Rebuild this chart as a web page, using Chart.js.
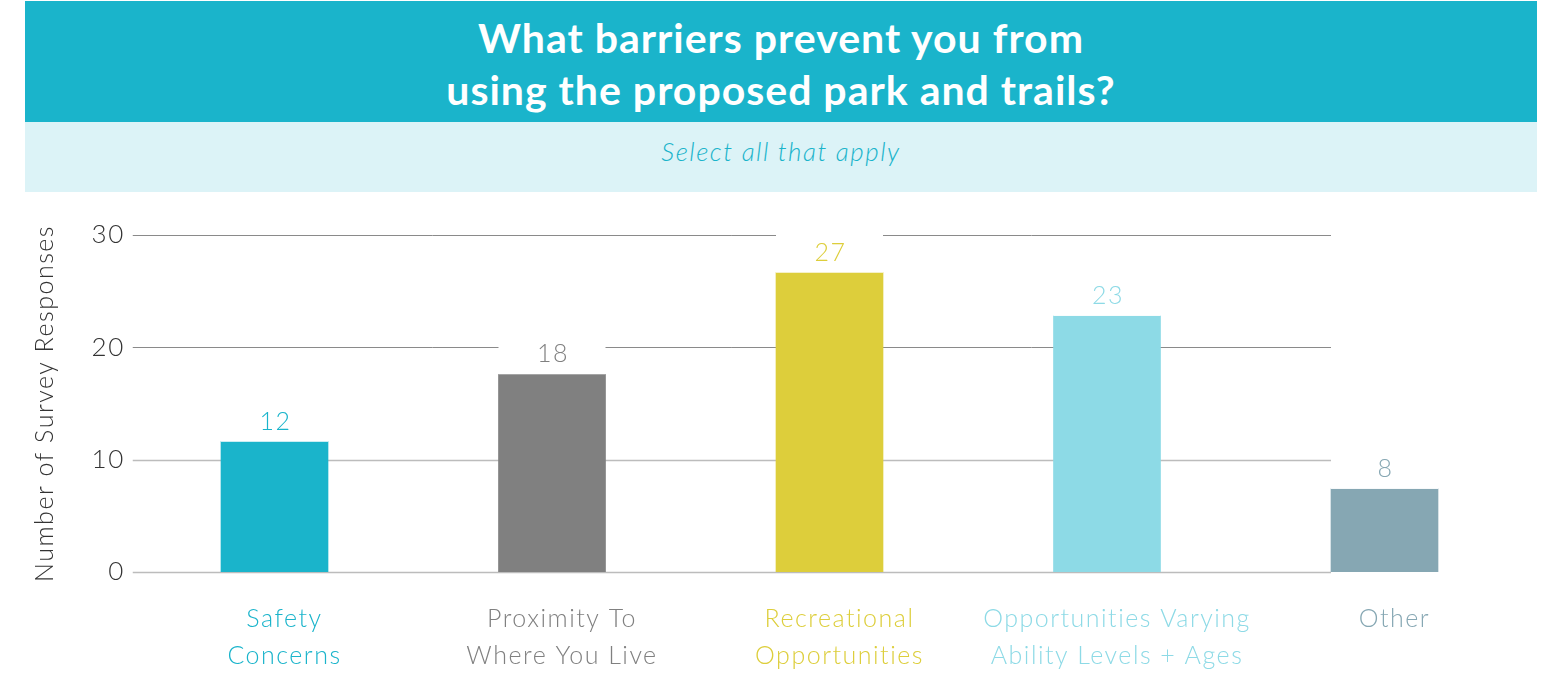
<!DOCTYPE html>
<html><head><meta charset="utf-8">
<script src="https://cdn.jsdelivr.net/npm/chart.js@4"></script>
<style>
html,body{margin:0;padding:0;background:#fff;width:1552px;height:678px;overflow:hidden;font-family:Lato,sans-serif}
#title{position:absolute;left:25px;top:1px;width:1512px;height:121px;background:#1ab4cb;color:#fff;font-weight:700;font-size:41px;letter-spacing:1px;line-height:52px;text-align:center;box-sizing:border-box;padding-top:11px;}
#sub{position:absolute;left:25px;top:122px;width:1512px;height:70px;background:#dcf3f7;color:#1ab4cb;font-style:italic;font-weight:300;font-size:26px;letter-spacing:1.5px;line-height:30px;text-align:center;box-sizing:border-box;padding-top:14px}
#wrap{position:absolute;left:0;top:192px;width:1552px;height:486px}
</style></head><body>
<div id="title">What barriers prevent you from<br>using the proposed park and trails?</div>
<div id="sub">Select all that apply</div>
<div id="wrap"><canvas id="c" width="1552" height="486"></canvas></div>
<script>
const categories = [["Safety","Concerns"],["Proximity To","Where You Live"],["Recreational","Opportunities"],["Opportunities Varying","Ability Levels + Ages"],["Other"]];
const responses = [11.6, 17.6, 26.65, 22.8, 7.4];
const valueLabels = ["12","18","27","23","8"];
const barColors = ["#1ab4cb","#808080","#ddce3b","#8ddae6","#86a7b3"];
const yTicks = [0,10,20,30];
const yTitle = "Number of Survey Responses";

const FONT = "Lato";
const deco = {
  id:'deco',
  beforeDraw(chart){
    chart.ctx.letterSpacing = '1.5px';
  },
  beforeDatasetsDraw(chart){
    const {ctx, scales:{y}} = chart;
    const meta = chart.getDatasetMeta(0);
    const last = meta.data[meta.data.length-1];
    const x1 = last.x - last.width/2;
    const x0 = y.right - 3;
    ctx.save();
    yTicks.forEach(v=>{
      const py = Math.round(y.getPixelForValue(v)) + 0.5;
      ctx.strokeStyle = v >= 20 ? '#8a8a8a' : '#bcbcbc';
      ctx.lineWidth = v >= 20 ? 1 : 1.5;
      ctx.beginPath(); ctx.moveTo(x0, py); ctx.lineTo(x1, py); ctx.stroke();
    });
    ctx.restore();
  },
  afterDatasetsDraw(chart){
    const {ctx} = chart;
    const meta = chart.getDatasetMeta(0);
    ctx.save();
    meta.data.forEach((bar,i)=>{
      const left = bar.x - bar.width/2;
      ctx.fillStyle = '#fff';
      ctx.fillRect(left, bar.y - 40, bar.width, 40);
      ctx.fillStyle = barColors[i];
      ctx.font = '300 25px ' + FONT;
      ctx.textAlign = 'center';
      ctx.textBaseline = 'alphabetic';
      ctx.fillText(valueLabels[i], bar.x + 1, bar.y - 12);
    });
    ctx.restore();
  }
};

new Chart(document.getElementById('c'), {
  type:'bar',
  data:{labels:categories, datasets:[{data:responses, backgroundColor:barColors, barThickness:107, borderWidth:0}]},
  options:{
    responsive:false, animation:false, devicePixelRatio:1,
    layout:{padding:{top:43,right:28.75,left:0,bottom:0}},
    plugins:{legend:{display:false},tooltip:{enabled:false}},
    scales:{
      y:{min:0,max:30,
        ticks:{stepSize:10,font:{family:FONT,size:26,weight:'300'},color:'#333',padding:11},
        grid:{display:false,drawTicks:false}, border:{display:false},
        title:{display:true,text:yTitle,font:{family:FONT,size:25,weight:'300'},color:'#333',padding:{top:30,bottom:0}},
        afterFit(s){s.width=135.75;}
      },
      x:{
        ticks:{font:{family:FONT,size:25,weight:'300',lineHeight:1.46},color:(c)=>barColors[c.index],padding:29,labelOffset:10,maxRotation:0,autoSkip:false},
        grid:{display:false,drawTicks:false}, border:{display:false},
        afterFit(s){s.height=106;}
      }
    }
  },
  plugins:[deco]
});
</script>
</body></html>
